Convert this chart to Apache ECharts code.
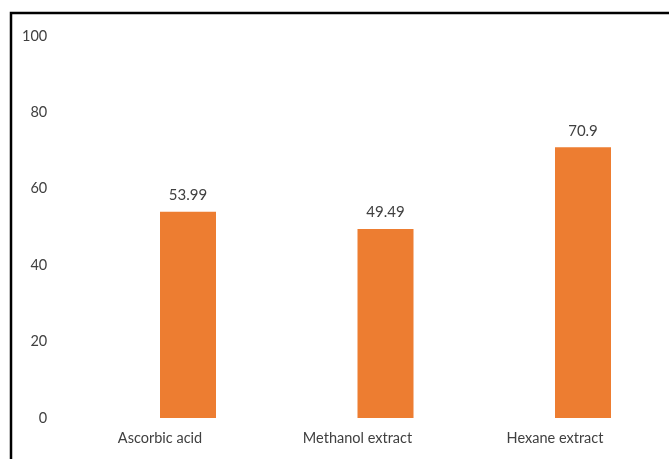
<!DOCTYPE html>
<html>
<head>
<meta charset="utf-8">
<title>ECharts</title>
<script src="https://cdn.jsdelivr.net/npm/echarts@6/dist/echarts.min.js"></script>
</head>
<body style="margin:0">
	<div id="main" style="width: 669px; height: 459px;"></div>
	<script type="text/javascript">
		var categories = ['Ascorbic acid', 'Methanol extract', 'Hexane extract'];
		var values = [53.99, 49.49, 70.9];
		var labels = ['53.99', '49.49', '70.9'];
		var emptyValues = ['-', '-', '-'];

		var myChart = echarts.init(document.getElementById('main'));

		var option = {
			backgroundColor: '#fff',
			textStyle: { fontFamily: 'Lato' },
			graphic: [{
				type: 'rect',
				shape: { x: 11, y: 13, width: 700, height: 500 },
				style: { fill: 'none', stroke: '#000', lineWidth: 2.5 }
			}],
			grid: { left: 61.25, width: 592.5, top: 36, height: 382, outerBoundsMode: 'none' },
			xAxis: {
				type: 'category',
				data: categories,
				axisLine: { show: false },
				axisTick: { show: false },
				axisLabel: { color: '#404040', fontSize: 14.5, margin: 13 }
			},
			yAxis: {
				type: 'value',
				min: 0, max: 100, interval: 20,
				axisLine: { show: false },
				axisTick: { show: false },
				splitLine: { show: false },
				axisLabel: { color: '#404040', fontSize: 14.5, margin: 14 }
			},
			series: [{
				type: 'bar',
				barWidth: 56,
				barGap: 0,
				data: emptyValues
			}, {
				type: 'bar',
				barWidth: 56,
				barGap: 0,
				itemStyle: { color: '#ED7D31' },
				data: values,
				label: {
					show: true,
					position: 'top',
					distance: 9,
					color: '#404040',
					fontSize: 15,
					formatter: function (p) { return labels[p.dataIndex]; }
				}
			}]
		};

		myChart.setOption(option);
	</script>
</body>
</html>
